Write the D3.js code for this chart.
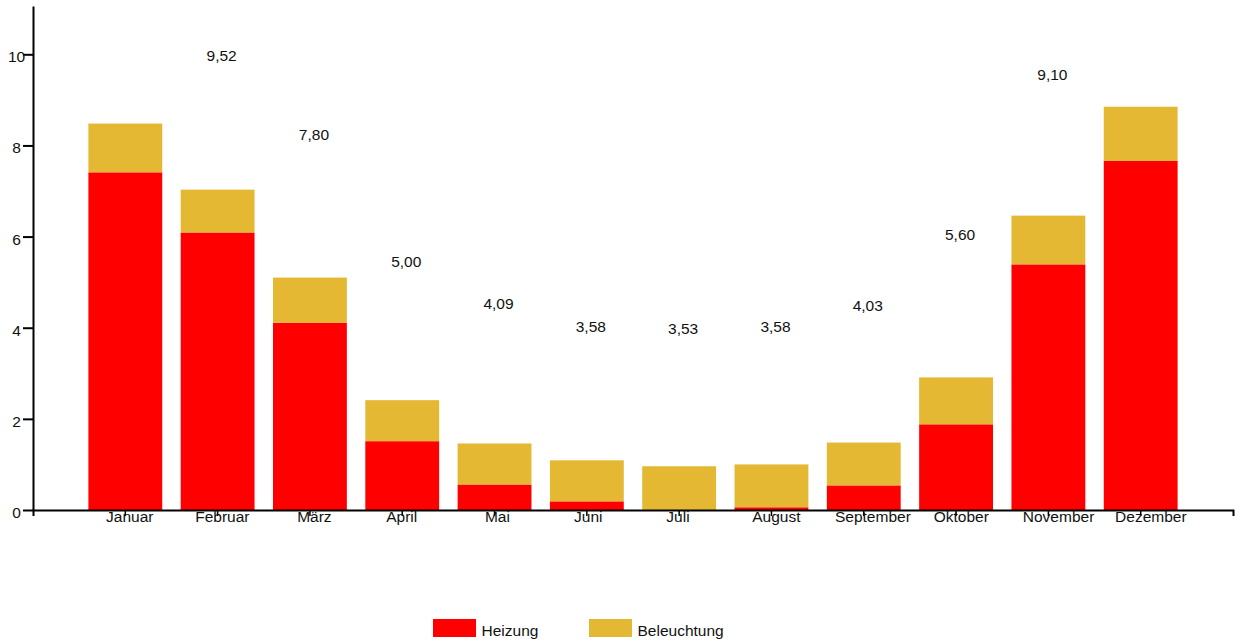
<!DOCTYPE html>
<html>
<head>
<meta charset="utf-8">
<script src="https://cdn.jsdelivr.net/npm/d3@7"></script>
<style>
  html, body { margin: 0; padding: 0; background: #fff; }
  svg text { font-family: "Liberation Sans", Arial, sans-serif; fill: #111; }
</style>
</head>
<body>
<svg id="chart" width="1240" height="643"></svg>
<script>
// Monatlicher Energiebedarf: Heizung und Beleuchtung (gestapelt)
const months = ["Januar", "Februar", "März", "April", "Mai", "Juni",
                "Juli", "August", "September", "Oktober", "November", "Dezember"];
const heizung     = [7.41, 6.09, 4.11, 1.51, 0.56, 0.19, 0.00, 0.06, 0.54, 1.88, 5.39, 7.66];
const beleuchtung = [1.07, 0.94, 0.99, 0.90, 0.90, 0.90, 0.96, 0.94, 0.94, 1.03, 1.07, 1.19];
const valueLabels = [null, 9.52, 7.80, 5.00, 4.09, 3.58, 3.53, 3.58, 4.03, 5.60, 9.10, null];
const yTicks = [0, 2, 4, 6, 8, 10];
const seriesNames = ["Heizung", "Beleuchtung"];
const seriesColors = ["#ff0000", "#e4b833"];

const fontSize = 15.5;
const svg = d3.select("#chart");

const x = d3.scaleBand()
  .domain(months)
  .range([33, 1233])
  .paddingInner(0.2)
  .paddingOuter(0.6);

const y = d3.scaleLinear()
  .domain([0, 11.06])
  .range([510, 6]);

const rows = months.map((m, i) => ({ month: m, Heizung: heizung[i], Beleuchtung: beleuchtung[i] }));
const stacked = d3.stack().keys(seriesNames)(rows);

// Balken
svg.append("g")
  .selectAll("g")
  .data(stacked)
  .join("g")
    .attr("fill", (d, i) => seriesColors[i])
  .selectAll("rect")
  .data(d => d)
  .join("rect")
    .attr("x", d => x(d.data.month))
    .attr("width", x.bandwidth())
    .attr("y", d => y(d[1]))
    .attr("height", d => y(d[0]) - y(d[1]));

// Wertbeschriftungen
svg.append("g")
  .selectAll("text")
  .data(months.map((m, i) => ({ month: m, v: valueLabels[i] })).filter(d => d.v !== null))
  .join("text")
    .attr("x", d => x(d.month) + x.bandwidth() / 2 + 4)
    .attr("y", d => y(d.v) - 15)
    .attr("text-anchor", "middle")
    .attr("font-size", fontSize)
    .text(d => d3.format(".2f")(d.v).replace(".", ","));

// y-Achse
const yAxis = svg.append("g")
  .attr("transform", "translate(33,0)")
  .call(d3.axisLeft(y).tickValues(yTicks).tickSize(10).tickSizeOuter(0).tickFormat(d3.format("d")));
yAxis.select(".domain").attr("stroke", "#000").attr("stroke-width", 2);
yAxis.selectAll(".tick line").attr("stroke", "#000").attr("stroke-width", 2);
yAxis.selectAll(".tick text")
  .attr("x", -16.5)
  .attr("dy", "0.48em")
  .attr("text-anchor", "middle")
  .attr("font-size", fontSize)
  .attr("font-family", null)
  .attr("fill", null);

// x-Achse: Beschriftung linksbündig, Start um geschätzte halbe Textbreite versetzt
const xAxis = svg.append("g")
  .attr("transform", "translate(0,510)")
  .call(d3.axisBottom(x).tickSize(6).tickPadding(-5.5));
xAxis.select(".domain").attr("stroke", "#000").attr("stroke-width", 2);
xAxis.selectAll(".tick line").attr("stroke", "#000").attr("stroke-width", 1.5);
xAxis.selectAll(".tick text")
  .attr("text-anchor", "start")
  .attr("x", d => -3.2 * d.length)
  .attr("font-size", fontSize)
  .attr("font-family", null)
  .attr("fill", null);

// Legende
const legendX = [433, 589];
const legend = svg.append("g")
  .selectAll("g")
  .data(seriesNames)
  .join("g")
    .attr("transform", (d, i) => `translate(${legendX[i]},619)`);
legend.append("rect")
  .attr("width", 43)
  .attr("height", 18)
  .attr("fill", (d, i) => seriesColors[i]);
legend.append("text")
  .attr("x", 48.5)
  .attr("y", 17)
  .attr("font-size", fontSize)
  .text(d => d);
</script>
</body>
</html>
